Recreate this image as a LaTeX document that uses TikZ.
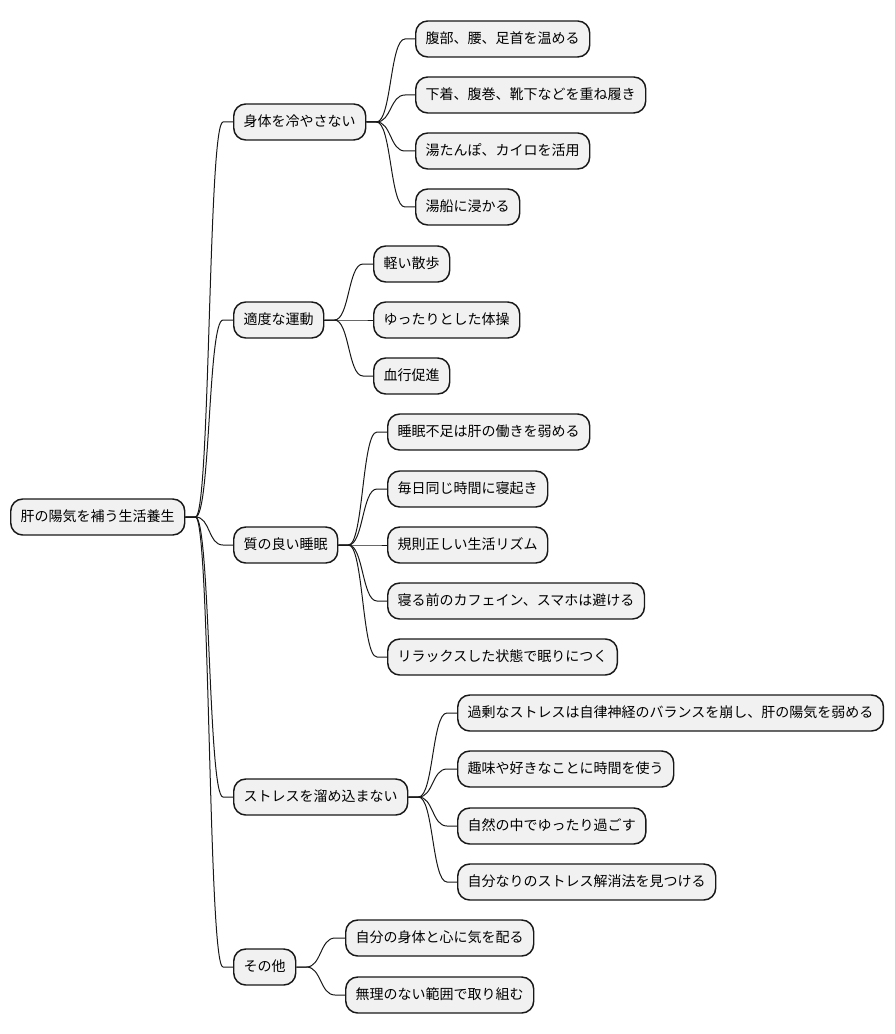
\documentclass[tikz,border=0pt]{standalone}
\usepackage{fontspec}
\setmainfont{Noto Sans CJK JP}
\usetikzlibrary{calc}

\definecolor{nodefill}{HTML}{F1F1F1}
\definecolor{nodeline}{HTML}{181818}
\tikzset{
  topic/.style={draw=nodeline, fill=nodefill, line width=1.1pt, rounded corners=9pt,
    minimum height=27pt, inner xsep=7.5pt, text height=0.86em, text depth=0.14em,
    anchor=west, font=\fontsize{10.5pt}{12pt}\selectfont},
  branch/.style={draw=nodeline, line width=0.75pt}
}

\begin{document}
\begin{tikzpicture}[x=0.75pt, y=-0.75pt]
  \useasboundingbox (0,0) rectangle (894,1034);
  %
  \node[topic] (root) at (10,517) {肝の陽気を補う生活養生};
  %
  \node[topic] (cold)   at (233,122) {身体を冷やさない};
  \node[topic] (move)   at (233,320) {適度な運動};
  \node[topic] (sleep)  at (233,545) {質の良い睡眠};
  \node[topic] (stress) at (233,797) {ストレスを溜め込まない};
  \node[topic] (other)  at (233,967) {その他};
  %
  \node[topic] (cold1) at (415,39)  {腹部、腰、足首を温める};
  \node[topic] (cold2) at (415,95)  {下着、腹巻、靴下などを重ね履き};
  \node[topic] (cold3) at (415,151) {湯たんぽ、カイロを活用};
  \node[topic] (cold4) at (415,207) {湯船に浸かる};
  %
  \node[topic] (move1) at (373,264) {軽い散歩};
  \node[topic] (move2) at (373,320) {ゆったりとした体操};
  \node[topic] (move3) at (373,376) {血行促進};
  %
  \node[topic] (sleep1) at (387,432) {睡眠不足は肝の働きを弱める};
  \node[topic] (sleep2) at (387,489) {毎日同じ時間に寝起き};
  \node[topic] (sleep3) at (387,545) {規則正しい生活リズム};
  \node[topic] (sleep4) at (387,601) {寝る前のカフェイン、スマホは避ける};
  \node[topic] (sleep5) at (387,657) {リラックスした状態で眠りにつく};
  %
  \node[topic] (stress1) at (457,713) {過剰なストレスは自律神経のバランスを崩し、肝の陽気を弱める};
  \node[topic] (stress2) at (457,769) {趣味や好きなことに時間を使う};
  \node[topic] (stress3) at (457,826) {自然の中でゆったり過ごす};
  \node[topic] (stress4) at (457,882) {自分なりのストレス解消法を見つける};
  %
  \node[topic] (other1) at (345,938) {自分の身体と心に気を配る};
  \node[topic] (other2) at (345,995) {無理のない範囲で取り組む};
  %
  \foreach \p/\c in {root/cold, root/move, root/sleep, root/stress, root/other,
      cold/cold1, cold/cold2, cold/cold3, cold/cold4,
      move/move1, move/move2, move/move3,
      sleep/sleep1, sleep/sleep2, sleep/sleep3, sleep/sleep4, sleep/sleep5,
      stress/stress1, stress/stress2, stress/stress3, stress/stress4,
      other/other1, other/other2}
    \draw[branch] (\p.east) -- ++(10,0) .. controls +(15,0) and +(-15,0) .. ($(\c.west)+(-10,0)$) -- (\c.west);
\end{tikzpicture}
\end{document}
